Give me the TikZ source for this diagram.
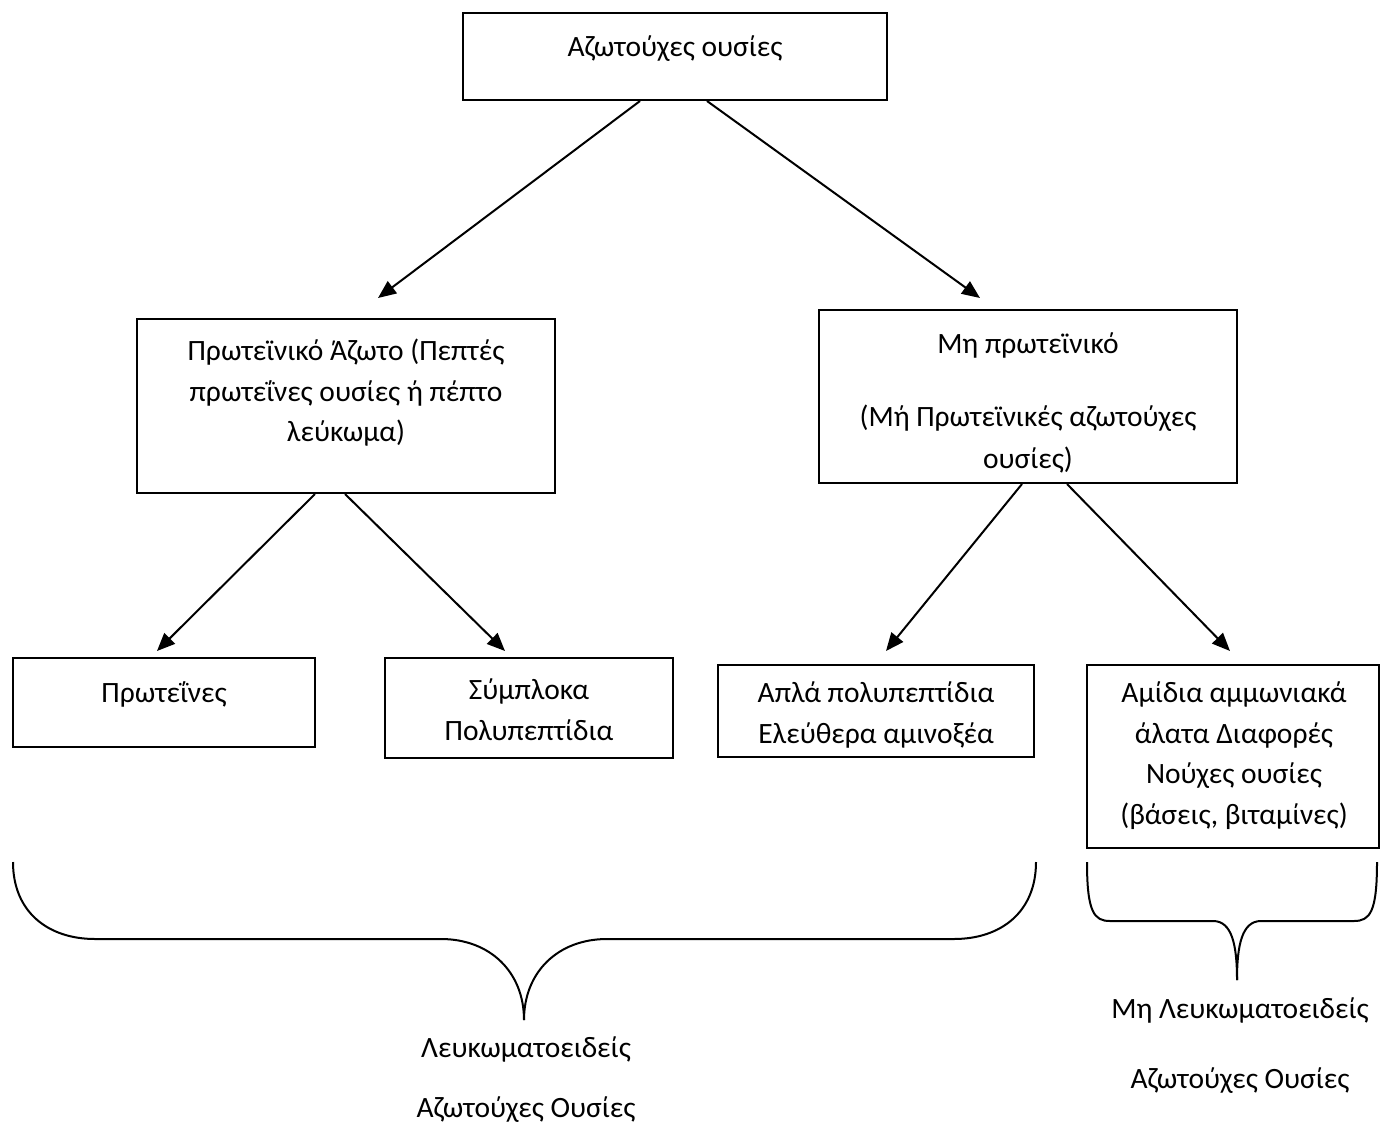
\documentclass[tikz,border=0pt]{standalone}
\usepackage{fontspec}
\setmainfont{Carlito}
\usetikzlibrary{arrows.meta,calc}
\begin{document}
\begin{tikzpicture}[x=1pt,y=-1pt,
  box/.style={draw,line width=2pt,inner sep=0pt},
  txt/.style={align=center,inner sep=0pt,anchor=north,
    font=\fontsize{29.5}{40.5}\selectfont,
    execute at begin node={\rule{0pt}{28pt}}},
  arr/.style={line width=2pt,-{Triangle[length=18pt,width=15pt]}},
  brace/.style={line width=2pt}]
\useasboundingbox (0,0) rectangle (1381,1127);

% boxes
\node[box,minimum width=424pt,minimum height=87pt]  (top)   at (675,56.5) {};
\node[box,minimum width=418pt,minimum height=174pt] (prot)  at (346,406) {};
\node[box,minimum width=418pt,minimum height=173pt] (nprot) at (1028,396.5) {};
\node[box,minimum width=302pt,minimum height=89pt]  (prt)   at (164,702.5) {};
\node[box,minimum width=288pt,minimum height=100pt] (sym)   at (529,708) {};
\node[box,minimum width=316pt,minimum height=92pt]  (apl)   at (876,711) {};
\node[box,minimum width=292pt,minimum height=183pt] (ami)   at (1233,756.5) {};

% box texts
\node[txt] (topt)   at (675,28)  {Αζωτούχες ουσίες};
\node[txt] (prott)  at (346,339) {Πρωτεϊνικό Άζωτο (Πεπτές\\πρωτεΐνες ουσίες ή πέπτο\\λεύκωμα)};
\node[txt] (nprott) at (1028,333) {Μη πρωτεϊνικό\\[32pt](Μή Πρωτεϊνικές αζωτούχες\\[2pt]ουσίες)};
\node[txt] (prtt)   at (164,674) {Πρωτεΐνες};
\node[txt] (symt)   at (529,679) {Σύμπλοκα\\Πολυπεπτίδια};
\node[txt] (aplt)   at (876,682) {Απλά πολυπεπτίδια\\Ελεύθερα αμινοξέα};
\node[txt] (amit)   at (1234,682) {Αμίδια αμμωνιακά\\άλατα Διαφορές\\Νούχες ουσίες\\(βάσεις, βιταμίνες)};

% group labels
\node[txt] (lab1) at (526,1037) {Λευκωματοειδείς\\[19.5pt]Αζωτούχες Ουσίες};
\node[txt] (lab2) at (1240,998)  {Μη Λευκωματοειδείς\\[29.5pt]Αζωτούχες Ουσίες};

% arrow tips
\coordinate (t1) at (378,298);
\coordinate (t2) at (980,298);
\coordinate (t3) at (157,651);
\coordinate (t4) at (505,651);
\coordinate (t5) at (886,651);
\coordinate (t6) at (1230,651);

\draw[arr] ([xshift=-35pt]top.south)  -- (t1);
\draw[arr] ([xshift=32pt]top.south)   -- (t2);
\draw[arr] ([xshift=-31pt]prot.south) -- (t3);
\draw[arr] ([xshift=-1pt]prot.south)  -- (t4);
\draw[arr] ([xshift=-6pt]nprot.south) -- (t5);
\draw[arr] ([xshift=39pt]nprot.south) -- (t6);

% braces
\draw[brace] (13,862) .. controls (13,912) and (48,939) .. (95,939) -- (441,939)
  .. controls (490,939) and (524,972) .. (524,1020);
\draw[brace] (1036,862) .. controls (1036,912) and (1001,939) .. (954,939) -- (607,939)
  .. controls (558,939) and (524,972) .. (524,1020);
\draw[brace] (1087,862) .. controls (1087,912) and (1094,921) .. (1110,921) -- (1213,921)
  .. controls (1232,921) and (1237,945) .. (1237,980);
\draw[brace] (1377,862) .. controls (1377,912) and (1370,921) .. (1354,921) -- (1261,921)
  .. controls (1242,921) and (1237,945) .. (1237,980);
\end{tikzpicture}
\end{document}
